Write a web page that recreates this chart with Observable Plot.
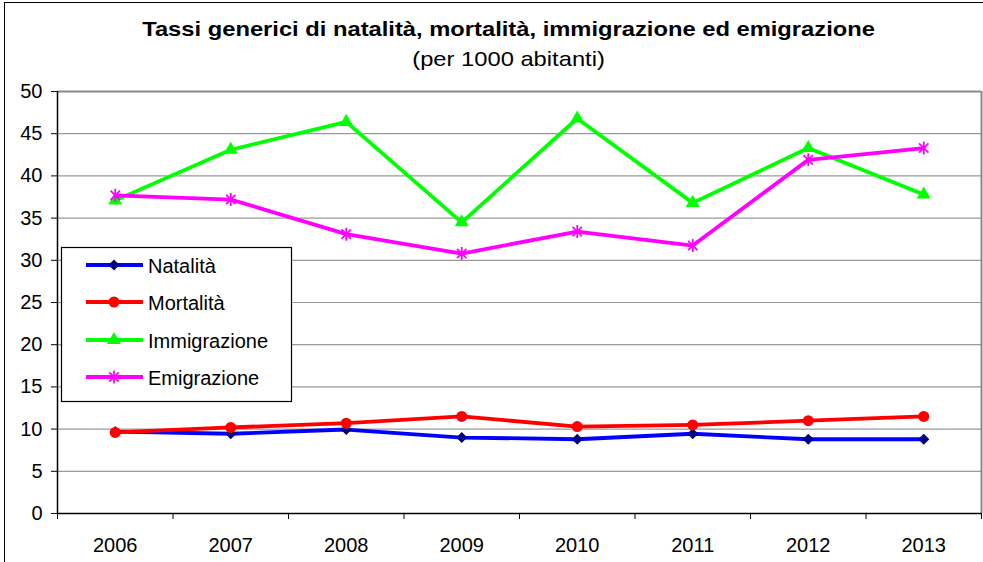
<!DOCTYPE html>
<html>
<head>
<meta charset="utf-8">
<script src="https://cdn.jsdelivr.net/npm/d3@7"></script>
<script src="https://cdn.jsdelivr.net/npm/@observablehq/plot@0.6"></script>
<style>
  html, body { margin: 0; padding: 0; background: #fff; }
  body { width: 983px; height: 562px; overflow: hidden; position: relative; font-family: "Liberation Sans", Arial, sans-serif; }
  #chart { position: absolute; left: 0; top: 0; }
  .title { position: absolute; left: 0; width: 1017px; text-align: center; font-size: 21px; line-height: 21px; color: #000; white-space: nowrap; transform: scaleX(1.13); transform-origin: 508px 0; }
  #t1 { top: 18px; font-weight: bold; }
  #t2 { top: 48px; }
  #border { position: absolute; left: 4px; top: 2px; width: 1000px; height: 570px; border-left: 1.5px solid #000; border-top: 1.5px solid #000; pointer-events: none; }
  #legend { position: absolute; left: 0; top: 0; }
</style>
</head>
<body>
<div id="chart"></div>
<div class="title" id="t1">Tassi generici di natalità, mortalità, immigrazione ed emigrazione</div>
<div class="title" id="t2">(per 1000 abitanti)</div>
<div id="border"></div>
<script>
const years = [2006, 2007, 2008, 2009, 2010, 2011, 2012, 2013];
const natalita = [9.7, 9.45, 9.95, 9.0, 8.8, 9.45, 8.8, 8.8];
const mortalita = [9.6, 10.2, 10.7, 11.5, 10.3, 10.5, 11.0, 11.5];
const immigrazione = [37.1, 43.1, 46.4, 34.5, 46.8, 36.8, 43.3, 37.8];
const emigrazione = [37.7, 37.2, 33.1, 30.8, 33.4, 31.75, 41.9, 43.3];
const seriesNames = ["Natalità", "Mortalità", "Immigrazione", "Emigrazione"];
const yTicks = [0, 5, 10, 15, 20, 25, 30, 35, 40, 45, 50];

const lineColors = ["#0000ff", "#ff0000", "#00ff00", "#ff00ff"];
const markerColors = ["#000080", "#ff0000", "#00ff00", "#ff00ff"];

const asterisk = {
  draw(ctx, size) {
    const r = Math.sqrt(size / Math.PI);
    const d = r * 0.72;
    ctx.moveTo(0, -r); ctx.lineTo(0, r);
    ctx.moveTo(-d, -d); ctx.lineTo(d, d);
    ctx.moveTo(-d, d); ctx.lineTo(d, -d);
  }
};

const valuesBySeries = [natalita, mortalita, immigrazione, emigrazione];
const data = [];
seriesNames.forEach((s, i) => years.forEach((y, j) => data.push({serie: s, year: y, value: valuesBySeries[i][j]})));
const of = s => data.filter(d => d.serie === s);

const boundaries = years.map(y => y - 0.5).concat([years[years.length - 1] + 0.5]);
const x0 = boundaries[0], x1 = boundaries[boundaries.length - 1];

const chart = Plot.plot({
  width: 983,
  height: 562,
  marginTop: 91,
  marginRight: 2,
  marginBottom: 49,
  marginLeft: 57,
  style: { fontFamily: "'Liberation Sans', Arial, sans-serif", fontSize: "20px", background: "transparent", color: "#000" },
  x: { type: "linear", domain: [x0, x1] },
  y: { domain: [0, 50] },
  marks: [
    Plot.gridY(yTicks.filter(d => d > 0 && d < 50), { stroke: "#999", strokeOpacity: 1, strokeWidth: 1.2 }),
    Plot.ruleY([50], { stroke: "#888", strokeWidth: 2 }),
    Plot.ruleX([x1], { stroke: "#888", strokeWidth: 2 }),
    Plot.axisY({ ticks: yTicks, tickSize: 6, tickPadding: 9, label: null, tickFormat: d => String(d), fontSize: 20, stroke: "#000" }),
    Plot.axisX({ ticks: boundaries, tickSize: 6, tickFormat: () => "", label: null, stroke: "#000" }),
    Plot.axisX({ ticks: years, tickSize: 0, tickPadding: 24, tickFormat: d => String(d), label: null, fontSize: 20 }),
    Plot.ruleY([0], { stroke: "#000", strokeWidth: 1.5 }),
    Plot.ruleX([x0], { stroke: "#000", strokeWidth: 1.5 }),
    Plot.line(of(seriesNames[0]), { x: "year", y: "value", stroke: lineColors[0], strokeWidth: 3.8 }),
    Plot.line(of(seriesNames[1]), { x: "year", y: "value", stroke: lineColors[1], strokeWidth: 3.8 }),
    Plot.line(of(seriesNames[2]), { x: "year", y: "value", stroke: lineColors[2], strokeWidth: 3.8 }),
    Plot.line(of(seriesNames[3]), { x: "year", y: "value", stroke: lineColors[3], strokeWidth: 3.8 }),
    Plot.dot(of(seriesNames[0]), { x: "year", y: "value", symbol: "diamond2", r: 5, fill: markerColors[0], stroke: "none" }),
    Plot.dot(of(seriesNames[1]), { x: "year", y: "value", symbol: "circle", r: 5.5, fill: markerColors[1], stroke: "none" }),
    Plot.dot(of(seriesNames[2]), { x: "year", y: "value", symbol: "triangle", r: 5.2, fill: markerColors[2], stroke: "none" }),
    Plot.dot(of(seriesNames[3]), { x: "year", y: "value", symbol: asterisk, r: 6.5, fill: "none", stroke: markerColors[3], strokeWidth: 1.8 })
  ]
});
document.getElementById("chart").appendChild(chart);

// Legend
const legend = d3.select("body").append("svg")
  .attr("id", "legend").attr("width", 983).attr("height", 562);
legend.append("rect").attr("x", 61.5).attr("y", 247.5).attr("width", 230).attr("height", 154)
  .attr("fill", "#fff").attr("stroke", "#000").attr("stroke-width", 1.2);
const rowY = [265, 302, 340, 377];
const syms = [
  d3.symbol(d3.symbolDiamond2, 5 * 5 * Math.PI),
  d3.symbol(d3.symbolCircle, 5.5 * 5.5 * Math.PI),
  d3.symbol(d3.symbolTriangle, 5.2 * 5.2 * Math.PI),
  d3.symbol(asterisk, 6.5 * 6.5 * Math.PI)
];
seriesNames.forEach((s, i) => {
  const g = legend.append("g").attr("transform", `translate(0,${rowY[i]})`);
  g.append("line").attr("x1", 86).attr("x2", 143).attr("y1", 0).attr("y2", 0)
    .attr("stroke", lineColors[i]).attr("stroke-width", 3.8);
  const p = g.append("path").attr("d", syms[i]()).attr("transform", "translate(114,0)");
  if (i === 3) p.attr("fill", "none").attr("stroke", markerColors[i]).attr("stroke-width", 1.8);
  else p.attr("fill", markerColors[i]);
  g.append("text").attr("x", 148).attr("y", 7.5).text(s)
    .attr("font-family", "'Liberation Sans', Arial, sans-serif").attr("font-size", 20).attr("fill", "#000");
});
</script>
</body>
</html>
